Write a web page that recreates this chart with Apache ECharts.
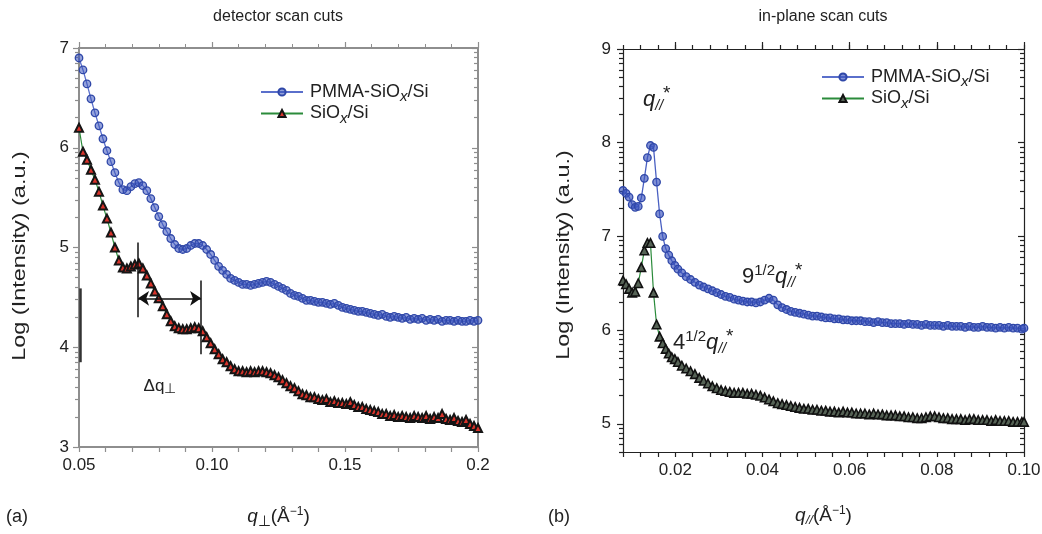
<!DOCTYPE html>
<html>
<head>
<meta charset="utf-8">
<script src="https://cdn.jsdelivr.net/npm/echarts@6/dist/echarts.min.js"></script>
<style>
html, body { margin: 0; padding: 0; background: #fff; }
#chart { width: 1042px; height: 534px; }
</style>
</head>
<body>
<div id="chart"></div>
<script>
// (a) detector scan cuts
var leftQ = [
	0.0500, 0.0515, 0.0530, 0.0545, 0.0560, 0.0575, 0.0590, 0.0605, 0.0620, 0.0635,
	0.0650, 0.0665, 0.0680, 0.0695, 0.0710, 0.0725, 0.0740, 0.0755, 0.0770, 0.0785,
	0.0800, 0.0815, 0.0830, 0.0845, 0.0860, 0.0875, 0.0890, 0.0905, 0.0920, 0.0935,
	0.0950, 0.0965, 0.0980, 0.0995, 0.1010, 0.1025, 0.1040, 0.1055, 0.1070, 0.1085,
	0.1100, 0.1115, 0.1130, 0.1145, 0.1160, 0.1175, 0.1190, 0.1205, 0.1220, 0.1235,
	0.1250, 0.1265, 0.1280, 0.1295, 0.1310, 0.1325, 0.1340, 0.1355, 0.1370, 0.1385,
	0.1400, 0.1415, 0.1430, 0.1445, 0.1460, 0.1475, 0.1490, 0.1505, 0.1520, 0.1535,
	0.1550, 0.1565, 0.1580, 0.1595, 0.1610, 0.1625, 0.1640, 0.1655, 0.1670, 0.1685,
	0.1700, 0.1715, 0.1730, 0.1745, 0.1760, 0.1775, 0.1790, 0.1805, 0.1820, 0.1835,
	0.1850, 0.1865, 0.1880, 0.1895, 0.1910, 0.1925, 0.1940, 0.1955, 0.1970, 0.1985,
	0.2000
];
var leftPmma = [
	6.90, 6.78, 6.64, 6.49, 6.35, 6.22, 6.09, 5.97, 5.86, 5.75,
	5.65, 5.58, 5.57, 5.61, 5.64, 5.65, 5.62, 5.57, 5.49, 5.40,
	5.31, 5.23, 5.16, 5.09, 5.03, 4.99, 4.98, 4.99, 5.02, 5.04,
	5.04, 5.02, 4.98, 4.93, 4.87, 4.81, 4.77, 4.73, 4.69, 4.67,
	4.65, 4.63, 4.63, 4.62, 4.63, 4.64, 4.65, 4.66, 4.65, 4.63,
	4.61, 4.59, 4.57, 4.54, 4.52, 4.51, 4.49, 4.47, 4.47, 4.46,
	4.45, 4.45, 4.44, 4.43, 4.44, 4.42, 4.40, 4.39, 4.38, 4.37,
	4.36, 4.36, 4.35, 4.34, 4.33, 4.32, 4.33, 4.31, 4.30, 4.31,
	4.30, 4.29, 4.30, 4.28, 4.29, 4.28, 4.29, 4.27, 4.28, 4.27,
	4.28, 4.26, 4.27, 4.27, 4.26, 4.27, 4.26, 4.26, 4.27, 4.26,
	4.27
];
var leftSiox = [
	6.20, 5.96, 5.88, 5.78, 5.68, 5.56, 5.42, 5.29, 5.15, 5.00,
	4.87, 4.80, 4.79, 4.81, 4.83, 4.84, 4.79, 4.72, 4.64, 4.56,
	4.49, 4.41, 4.33, 4.26, 4.21, 4.19, 4.18, 4.18, 4.19, 4.20,
	4.19, 4.16, 4.10, 4.04, 3.98, 3.93, 3.88, 3.85, 3.81, 3.78,
	3.76, 3.76, 3.75, 3.76, 3.75, 3.76, 3.76, 3.75, 3.74, 3.72,
	3.70, 3.67, 3.64, 3.61, 3.59, 3.56, 3.53, 3.52, 3.50, 3.50,
	3.48, 3.47, 3.48, 3.45, 3.46, 3.44, 3.44, 3.43, 3.45, 3.42,
	3.40, 3.40, 3.38, 3.37, 3.36, 3.35, 3.33, 3.33, 3.31, 3.32,
	3.30, 3.31, 3.30, 3.29, 3.31, 3.30, 3.29, 3.31, 3.28, 3.30,
	3.29, 3.33, 3.28, 3.27, 3.29, 3.26, 3.25, 3.27, 3.23, 3.21,
	3.19
];

// (b) in-plane scan cuts
var rightQ = [
	0.0080, 0.0087, 0.0094, 0.0101, 0.0108, 0.0115, 0.0122, 0.0129, 0.0136, 0.0143,
	0.0150, 0.0157, 0.0164, 0.0171, 0.0178, 0.0185, 0.0192, 0.0199, 0.0206,
	0.0215, 0.0225, 0.0235, 0.0245, 0.0255, 0.0265, 0.0275, 0.0285, 0.0295, 0.0305,
	0.0315, 0.0325, 0.0335, 0.0345, 0.0355, 0.0365, 0.0375, 0.0385, 0.0395, 0.0405,
	0.0415, 0.0425, 0.0435, 0.0445, 0.0455, 0.0465, 0.0475, 0.0485, 0.0495, 0.0505,
	0.0515, 0.0525, 0.0535, 0.0545, 0.0555, 0.0565, 0.0575, 0.0585, 0.0595, 0.0605,
	0.0615, 0.0625, 0.0635, 0.0645, 0.0655, 0.0665, 0.0675, 0.0685, 0.0695, 0.0705,
	0.0715, 0.0725, 0.0735, 0.0745, 0.0755, 0.0765, 0.0775, 0.0785, 0.0795, 0.0805,
	0.0815, 0.0825, 0.0835, 0.0845, 0.0855, 0.0865, 0.0875, 0.0885, 0.0895, 0.0905,
	0.0915, 0.0925, 0.0935, 0.0945, 0.0955, 0.0965, 0.0975, 0.0985, 0.0995,
	0.1000
];
var rightPmma = [
	7.49, 7.46, 7.42, 7.34, 7.31, 7.32, 7.41, 7.62, 7.84, 7.97,
	7.95, 7.58, 7.24, 7.00, 6.87, 6.80, 6.74, 6.69, 6.65,
	6.61, 6.57, 6.54, 6.51, 6.48, 6.46, 6.44, 6.42, 6.40, 6.38,
	6.36, 6.35, 6.33, 6.32, 6.31, 6.30, 6.30, 6.29, 6.30, 6.32,
	6.34, 6.32, 6.27, 6.24, 6.22, 6.20, 6.19, 6.18, 6.17, 6.16,
	6.15, 6.15, 6.14, 6.13, 6.13, 6.12, 6.12, 6.11, 6.11, 6.10,
	6.10, 6.10, 6.09, 6.09, 6.08, 6.09, 6.08, 6.08, 6.07, 6.07,
	6.07, 6.06, 6.07, 6.06, 6.06, 6.05, 6.06, 6.05, 6.05, 6.05,
	6.04, 6.05, 6.04, 6.04, 6.04, 6.03, 6.04, 6.03, 6.03, 6.04,
	6.03, 6.03, 6.02, 6.03, 6.02, 6.03, 6.02, 6.02, 6.01,
	6.02
];
var rightSiox = [
	6.53, 6.49, 6.44, 6.40, 6.41, 6.50, 6.67, 6.85, 6.93, 6.93,
	6.40, 6.06, 5.93, 5.86, 5.80, 5.75, 5.71, 5.69, 5.66,
	5.62, 5.59, 5.56, 5.53, 5.49, 5.46, 5.43, 5.40, 5.38, 5.36,
	5.35, 5.34, 5.33, 5.33, 5.33, 5.32, 5.32, 5.31, 5.30, 5.28,
	5.26, 5.24, 5.22, 5.21, 5.20, 5.19, 5.18, 5.17, 5.16, 5.16,
	5.15, 5.15, 5.14, 5.14, 5.13, 5.13, 5.12, 5.13, 5.12, 5.12,
	5.11, 5.11, 5.11, 5.10, 5.11, 5.10, 5.10, 5.09, 5.09, 5.09,
	5.08, 5.08, 5.07, 5.07, 5.06, 5.06, 5.07, 5.08, 5.08, 5.07,
	5.06, 5.06, 5.05, 5.05, 5.05, 5.04, 5.05, 5.05, 5.04, 5.04,
	5.04, 5.03, 5.04, 5.03, 5.03, 5.03, 5.02, 5.02, 5.02,
	5.02
];

var leftXTicks = [0.05, 0.10, 0.15, 0.2];
var rightXTicks = [0.02, 0.04, 0.06, 0.08, 0.10];
var rightYTicks = [5, 6, 7, 8, 9];

var FONT = '"Liberation Sans", Arial, sans-serif';
var GRAY = '#8e8e8e';
var DARK = '#222';

function pairs(xs, ys) {
	return xs.map(function(x, i) { return [x, ys[i]]; });
}

// minor ticks of a log10 intensity axis: d + log10(2..9)
function logMinor(from, to) {
	var out = [];
	for (var d = Math.floor(from); d < to; d++) {
		for (var k = 2; k <= 9; k++) {
			var v = d + Math.log10(k);
			if (v >= from - 1e-6 && v <= to) out.push(v);
		}
	}
	return out;
}
// evenly spaced tick positions (bottom axes take every tick as customValues)
function steps(from, to, step) {
	var out = [];
	var n = Math.round((to - from) / step);
	for (var i = 0; i <= n; i++) out.push(+(from + i * step).toFixed(4));
	return out;
}

var subRich = {
	n: { fontSize: 18, fontFamily: FONT, color: DARK },
	x: { fontSize: 15, fontFamily: FONT, color: DARK, fontStyle: 'italic', padding: [10, 0, 0, 0] }
};
function legendFmt(name) {
	return name === 'PMMA-SiOx/Si' ? '{n|PMMA-SiO}{x|x}{n|/Si}' : '{n|SiO}{x|x}{n|/Si}';
}

var qRich = {
	q: { fontSize: 19, fontFamily: FONT, color: DARK, fontStyle: 'italic' },
	sub: { fontSize: 15, fontFamily: FONT, color: DARK, padding: [10, 0, 0, 0] },
	isub: { fontSize: 13, fontFamily: FONT, color: DARK, fontStyle: 'italic', padding: [10, 0, 0, 0] },
	n: { fontSize: 19, fontFamily: FONT, color: DARK },
	sup: { fontSize: 12, fontFamily: FONT, color: DARK, padding: [0, 0, 10, 0] }
};
var peakRich = {
	q: { fontSize: 22, fontFamily: FONT, color: DARK, fontStyle: 'italic' },
	s: { fontSize: 14, fontFamily: FONT, color: DARK, fontStyle: 'italic', padding: [12, 0, 0, 0] },
	st: { fontSize: 19, fontFamily: FONT, color: DARK, padding: [0, 0, 12, 0] },
	n: { fontSize: 22, fontFamily: FONT, color: DARK },
	h: { fontSize: 15, fontFamily: FONT, color: DARK, padding: [0, 0, 13, 0] }
};

function txt(x, y, text, size, extra) {
	var el = {
		type: 'text', x: x, y: y, silent: true,
		style: {
			text: text, fontSize: size, fontFamily: FONT, fill: DARK,
			align: 'center', textAlign: 'center', verticalAlign: 'middle', textVerticalAlign: 'middle'
		}
	};
	if (extra) {
		for (var k in extra) {
			if (k === 'style') { for (var s in extra.style) el.style[s] = extra.style[s]; }
			else el[k] = extra[k];
		}
	}
	return el;
}

function tickAxis(o) {
	var a = {
		type: 'value', gridIndex: o.grid, position: o.pos, min: o.min, max: o.max,
		splitLine: { show: false },
		axisLine: { show: !!o.line, onZero: false, lineStyle: { color: o.line ? o.color : 'rgba(0,0,0,0)', width: o.width || 1 } },
		axisTick: { show: true, inside: !!o.inside, length: o.len || 6, lineStyle: { color: o.color, width: 1.2 } },
		axisLabel: { show: false },
		axisPointer: { show: false }
	};
	if (o.interval) a.interval = o.interval;
	if (o.ticks) a.axisTick.customValues = o.ticks;
	if (o.minor) a.minorTick = { show: true, splitNumber: o.minor, length: 4, lineStyle: { color: o.color, width: 1 } };
	if (o.labels) {
		a.axisLabel = {
			show: true, fontSize: 17, fontFamily: FONT, color: DARK, margin: o.margin || 9,
			showMinLabel: true, showMaxLabel: true, hideOverlap: false
		};
		if (o.labelValues) a.axisLabel.customValues = o.labelValues;
		if (o.fmt) a.axisLabel.formatter = o.fmt;
	}
	if (o.name) {
		a.name = o.name;
		a.nameLocation = 'middle';
		a.nameGap = o.nameGap;
		a.nameTextStyle = { rich: qRich };
	}
	return a;
}

var rMin = 4 + Math.log10(5);

var option = {
	animation: false,
	backgroundColor: '#fff',
	tooltip: { show: false },
	grid: [
		{ left: 79, top: 48, width: 399, height: 399, outerBoundsMode: 'none', containLabel: false },
		{ left: 623, top: 49, width: 401, height: 403, outerBoundsMode: 'none', containLabel: false }
	],
	xAxis: [
		tickAxis({ grid: 0, pos: 'bottom', min: 0.05, max: 0.2, line: true, color: GRAY, width: 2, len: 5,
			ticks: steps(0.05, 0.2, 0.01), labels: true, labelValues: leftXTicks, margin: 10,
			fmt: function(v) { return v > 0.19 ? '0.2' : v.toFixed(2); },
			name: '{q|q}{sub|⊥}{n|(Å}{sup|−1}{n|)}', nameGap: 57 }),
		tickAxis({ grid: 0, pos: 'top', min: 0.05, max: 0.2, interval: 0.05, line: true, color: GRAY, width: 2, minor: 5 }),
		tickAxis({ grid: 1, pos: 'bottom', min: 0.008, max: 0.1, line: true, color: DARK, width: 1.2, len: 5,
			ticks: steps(0.008, 0.1, 0.004), labels: true, labelValues: rightXTicks, margin: 10,
			fmt: function(v) { return v.toFixed(2); },
			name: '{q|q}{isub|//}{n|(Å}{sup|−1}{n|)}', nameGap: 52 }),
		tickAxis({ grid: 1, pos: 'top', min: 0.008, max: 0.1, line: true, color: DARK, width: 1.2, len: 7, ticks: rightXTicks }),
		tickAxis({ grid: 1, pos: 'top', min: 0.008, max: 0.1, interval: 0.004, color: DARK, len: 4 })
	],
	yAxis: [
		tickAxis({ grid: 0, pos: 'left', min: 3, max: 7, interval: 1, line: true, color: GRAY, width: 2, labels: true, margin: 10 }),
		tickAxis({ grid: 0, pos: 'left', min: 3, max: 7, color: GRAY, len: 4, ticks: logMinor(3, 7) }),
		tickAxis({ grid: 0, pos: 'right', min: 3, max: 7, interval: 1, line: true, color: GRAY, width: 2, inside: true }),
		tickAxis({ grid: 0, pos: 'right', min: 3, max: 7, color: GRAY, len: 4, inside: true, ticks: logMinor(3, 7) }),
		tickAxis({ grid: 1, pos: 'left', min: rMin, max: 9, line: true, color: DARK, width: 1.2,
			ticks: rightYTicks, labels: true, labelValues: rightYTicks, margin: 12 }),
		tickAxis({ grid: 1, pos: 'left', min: rMin, max: 9, color: DARK, len: 4, ticks: logMinor(rMin, 9) }),
		tickAxis({ grid: 1, pos: 'right', min: rMin, max: 9, line: true, color: DARK, width: 1.2, inside: true, ticks: rightYTicks }),
		tickAxis({ grid: 1, pos: 'right', min: rMin, max: 9, color: DARK, len: 4, inside: true, ticks: logMinor(rMin, 9) })
	],
	legend: [
		{
			left: 255, top: 78, orient: 'vertical', itemWidth: 42, itemHeight: 9, itemGap: 0,
			data: ['PMMA-SiOx/Si', 'SiOx/Si'], selectedMode: false,
			formatter: legendFmt, textStyle: { rich: subRich, padding: [0, 0, 0, 2] }
		},
		{
			left: 816, top: 63, orient: 'vertical', itemWidth: 42, itemHeight: 9, itemGap: 0,
			data: [
				{ name: 'PMMA-SiOx/Si', itemStyle: { color: 'rgba(60,85,190,0.65)', borderColor: '#2f47a8' } },
				{ name: 'SiOx/Si', itemStyle: { color: '#566356', borderColor: '#111' } }
			],
			selectedMode: false,
			formatter: legendFmt, textStyle: { rich: subRich, padding: [0, 0, 0, 2] }
		}
	],
	series: [
		{
			name: 'PMMA-SiOx/Si', type: 'line', xAxisIndex: 0, yAxisIndex: 0,
			data: pairs(leftQ, leftPmma),
			symbol: 'circle', symbolSize: 7.5,
			lineStyle: { color: '#5a6fcb', width: 1.3 },
			itemStyle: { color: 'rgba(60,85,190,0.55)', borderColor: '#2f47a8', borderWidth: 1.3 }
		},
		{
			name: 'SiOx/Si', type: 'line', xAxisIndex: 0, yAxisIndex: 0,
			data: pairs(leftQ, leftSiox),
			symbol: 'triangle', symbolSize: 8,
			lineStyle: { color: '#2b8b3b', width: 1.2 },
			itemStyle: { color: '#d8332a', borderColor: '#151515', borderWidth: 2 },
			markLine: {
				silent: true, symbol: 'none', symbolSize: 11, animation: false,
				label: { show: false },
				lineStyle: { color: '#111', width: 1.5, type: 'solid' },
				data: [
					[{ coord: [0.0722, 4.30] }, { coord: [0.0722, 5.05] }],
					[{ coord: [0.0959, 3.93] }, { coord: [0.0959, 4.67] }],
					[{ coord: [0.0722, 4.49], symbol: 'arrow' }, { coord: [0.0959, 4.49], symbol: 'arrow' }],
					[{ coord: [0.0506, 3.85], lineStyle: { color: '#333', width: 2.5 } }, { coord: [0.0506, 4.59] }]
				]
			}
		},
		{
			name: 'PMMA-SiOx/Si', type: 'line', xAxisIndex: 2, yAxisIndex: 4,
			data: pairs(rightQ, rightPmma),
			symbol: 'circle', symbolSize: 7.5,
			lineStyle: { color: '#4a60c2', width: 1.3 },
			itemStyle: { color: 'rgba(60,85,190,0.65)', borderColor: '#2f47a8', borderWidth: 1.3 }
		},
		{
			name: 'SiOx/Si', type: 'line', xAxisIndex: 2, yAxisIndex: 4,
			data: pairs(rightQ, rightSiox),
			symbol: 'triangle', symbolSize: 8.5,
			lineStyle: { color: '#2b8b3b', width: 1.2 },
			itemStyle: { color: '#566356', borderColor: '#111', borderWidth: 1.6 }
		}
	],
	graphic: [
		txt(278, 17, 'detector scan cuts', 16),
		txt(823, 17, 'in-plane scan cuts', 16),
		txt(20, 256, 'Log (Intensity) (a.u.)', 18, { rotation: Math.PI / 2, scaleX: 1.3 }),
		txt(564, 255, 'Log (Intensity) (a.u.)', 18, { rotation: Math.PI / 2, scaleX: 1.3 }),
		txt(17, 517, '(a)', 18),
		txt(559, 517, '(b)', 18),
		txt(160, 386, '{n|Δq}{s|⊥}', 17, { style: { rich: {
			n: { fontSize: 17, fontFamily: FONT, color: DARK },
			s: { fontSize: 14, fontFamily: FONT, color: DARK, padding: [6, 0, 0, 0] }
		} } }),
		txt(643, 100, '{q|q}{s|//}{st|*}', 22, { style: { rich: peakRich, align: 'left', textAlign: 'left' } }),
		txt(742, 277, '{n|9}{h|1/2}{q|q}{s|//}{st|*}', 22, { style: { rich: peakRich, align: 'left', textAlign: 'left' } }),
		txt(673, 343, '{n|4}{h|1/2}{q|q}{s|//}{st|*}', 22, { style: { rich: peakRich, align: 'left', textAlign: 'left' } })
	]
};

var myChart = echarts.init(document.getElementById('chart'), null, { renderer: 'canvas' });
myChart.setOption(option);
</script>
</body>
</html>
